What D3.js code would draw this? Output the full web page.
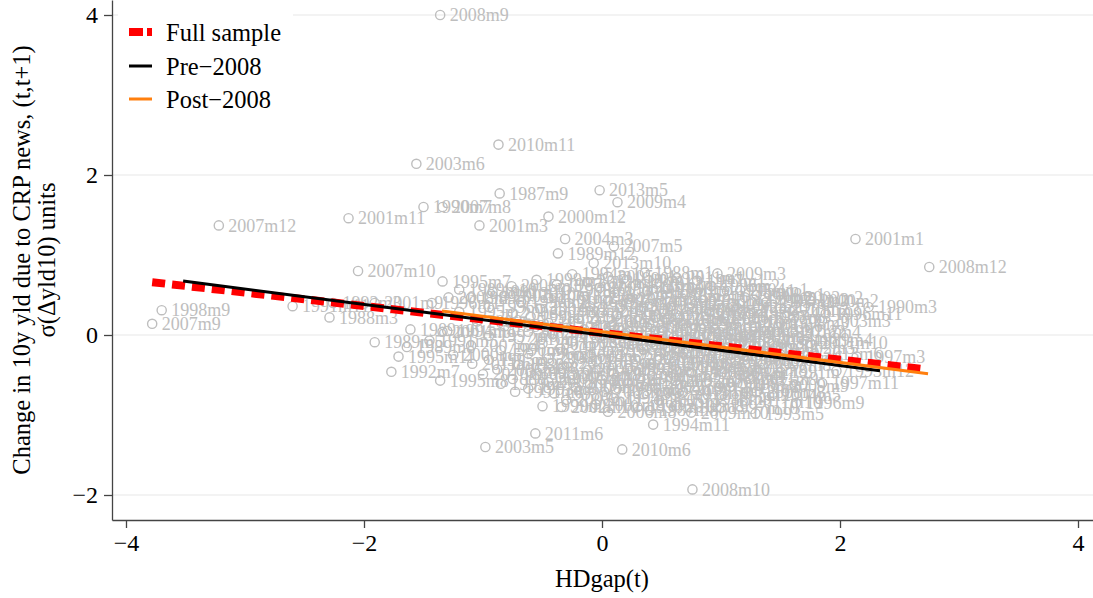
<!DOCTYPE html>
<html><head><meta charset="utf-8">
<script src="https://cdn.jsdelivr.net/npm/d3@7"></script>
<style>
body{margin:0;background:#fff}
svg{display:block}
text{font-family:"Liberation Serif","Times New Roman",serif}
</style>
</head><body>
<svg id="c" width="1093" height="598"></svg>
<script>
const xTicks = [-4, -2, 0, 2, 4];
const yTicks = [-2, 0, 2, 4];

// labelled outlying months: [HDgap(t), change in 10y yld, label]
const outlierPoints = [
  [-1.36,4.00,"2008m9"],[-0.87,2.38,"2010m11"],[-1.56,2.14,"2003m6"],[-0.86,1.77,"1987m9"],
  [-0.02,1.81,"2013m5"],[0.13,1.66,"2009m4"],[-1.50,1.60,"1990m7"],[-1.34,1.60,"2007m8"],
  [-2.13,1.46,"2001m11"],[-3.22,1.37,"2007m12"],[-0.45,1.48,"2000m12"],[-1.03,1.37,"2001m3"],
  [-0.31,1.20,"2004m3"],[0.10,1.11,"2007m5"],[-0.37,1.02,"1989m12"],[-0.07,0.90,"2013m10"],
  [2.13,1.20,"2001m1"],[2.75,0.85,"2008m12"],[0.97,0.77,"2009m3"],[-2.05,0.80,"2007m10"],
  [-1.34,0.67,"1995m7"],[-1.20,0.57,"1989m10"],[-1.29,0.47,"2008m4"],[-3.70,0.31,"1998m9"],
  [-3.78,0.14,"2007m9"],[2.24,0.35,"1990m3"],[1.88,0.27,"1996m11"],[1.50,0.44,"1991m2"],
  [1.47,0.04,"1997m2"],[1.75,-0.10,"2001m10"],[2.14,-0.27,"1997m3"],[1.97,-0.45,"1993m12"],
  [1.85,-0.60,"1997m11"],[1.63,-0.85,"1996m9"],[1.43,-0.75,"2004m5"],[1.29,-0.98,"1993m5"],
  [0.43,-1.12,"1994m11"],[-0.56,-1.23,"2011m6"],[-0.98,-1.40,"2003m5"],[0.17,-1.43,"2010m6"],
  [0.76,-1.93,"2008m10"],[-2.29,0.22,"1988m3"],[-2.60,0.36,"1991m11"],[-2.26,0.40,"1992m3"],
  [-1.91,0.40,"2001m9"],[-1.43,0.40,"1996m1"],[-1.61,0.07,"1989m6"],[-1.91,-0.09,"1989m5"],
  [-1.64,-0.15,"1989m8"],[-1.71,-0.27,"1995m11"],[-1.77,-0.46,"1992m7"],[-1.36,-0.57,"1995m8"],
  [-1.09,-0.36,"2011m8"],[-1.34,0.04,"2001m5"],[-0.73,-0.71,"1991m8"],[-0.34,-0.90,"2002m10"]
];

// the dense central cloud: [HDgap(t), change in 10y yld, label]
const cloudPoints = [
  [-0.25,0.76,"1994m1"],[0.05,0.73,"2005m1"],[0.36,0.78,"1988m1"],[0.63,0.71,"2011m1"],
  [-0.55,0.69,"1999m1"],[-0.12,0.66,"2002m1"],[0.18,0.70,"1990m1"],[0.46,0.64,"2012m1"],[0.80,0.68,"1997m1"],
  [-0.76,0.61,"2006m1"],[-0.38,0.63,"1987m1"],[-0.02,0.59,"2009m1"],[0.28,0.62,"1993m1"],[0.55,0.58,"2000m1"],[0.92,0.61,"1996m2"],[1.16,0.56,"2004m1"],
  [-0.92,0.54,"1991m1"],[-0.60,0.52,"2010m1"],[-0.30,0.56,"1998m1"],[0.10,0.53,"2003m1"],[0.38,0.55,"1992m1"],[0.70,0.51,"2013m1"],[1.05,0.55,"1995m1"],[1.30,0.50,"2008m1"],
  [-1.10,0.47,"1989m1"],[-0.82,0.49,"2007m1"],[-0.45,0.46,"2001m2"],[-0.15,0.48,"1994m2"],[0.22,0.45,"2005m2"],[0.50,0.49,"1988m2"],[0.85,0.44,"2011m2"],[1.20,0.47,"1999m2"],[1.62,0.46,"2002m2"],
  [-0.68,0.41,"1990m2"],[-0.28,0.40,"2012m2"],[0.05,0.43,"1997m4"],[0.40,0.39,"2006m2"],[0.66,0.42,"1987m2"],[0.98,0.38,"2009m2"],[1.38,0.41,"1993m2"],[1.75,0.43,"2000m2"],
  [-0.95,0.35,"1996m3"],[-0.52,0.33,"2004m2"],[-0.10,0.36,"1991m3"],[0.15,0.34,"2010m2"],[0.58,0.36,"1998m2"],[0.80,0.32,"2003m2"],[1.10,0.35,"1992m2"],[1.50,0.33,"2013m2"],
  [-1.20,0.29,"1995m2"],[-0.75,0.27,"2008m2"],[-0.35,0.30,"1989m2"],[0.00,0.28,"2007m2"],[0.32,0.31,"2001m4"],[0.62,0.26,"1994m3"],[0.90,0.29,"2005m3"],[1.25,0.27,"1988m4"],[1.60,0.30,"2011m3"],
  [-0.60,0.23,"1999m3"],[-0.20,0.21,"2002m3"],[0.12,0.24,"1990m4"],[0.45,0.22,"2012m3"],[0.72,0.25,"1997m5"],[1.02,0.21,"2006m3"],[1.35,0.23,"1987m3"],
  [-1.05,0.17,"2009m5"],[-0.45,0.15,"1993m3"],[-0.05,0.18,"2000m3"],[0.25,0.16,"1996m4"],[0.55,0.19,"2004m4"],[0.85,0.14,"1991m4"],[1.15,0.17,"2010m3"],[1.50,0.15,"1998m3"],[1.85,0.18,"2003m3"],
  [-0.82,0.11,"1992m4"],[-0.30,0.09,"2013m3"],[0.08,0.12,"1995m3"],[0.38,0.10,"2008m3"],[0.68,0.13,"1989m3"],[0.95,0.08,"2007m3"],[1.28,0.11,"2001m6"],
  [-1.30,0.05,"1994m4"],[-0.62,0.04,"2005m4"],[-0.15,0.07,"1988m5"],[0.20,0.03,"2011m4"],[0.50,0.06,"1999m4"],[0.78,0.02,"2002m4"],[1.08,0.05,"1990m5"],[1.60,0.04,"2012m4"],
  [-0.95,-0.01,"1997m6"],[-0.42,0.01,"2006m4"],[-0.02,-0.02,"1987m4"],[0.30,0.00,"2009m6"],[0.60,-0.03,"1993m4"],[0.88,0.01,"2000m4"],[1.20,-0.01,"1996m5"],[1.40,-0.04,"2004m6"],
  [-1.45,-0.07,"1991m5"],[-0.70,-0.05,"2010m4"],[-0.25,-0.08,"1998m4"],[0.12,-0.06,"2003m4"],[0.42,-0.09,"1992m5"],[0.72,-0.05,"2013m4"],[1.00,-0.07,"1995m4"],[1.32,-0.10,"2008m5"],[1.70,-0.06,"1989m4"],
  [-1.10,-0.13,"2007m4"],[-0.50,-0.11,"2001m7"],[-0.10,-0.14,"1994m5"],[0.25,-0.12,"2005m5"],[0.55,-0.15,"1988m6"],[0.85,-0.11,"2011m5"],[1.15,-0.13,"1999m5"],[1.55,-0.16,"2002m5"],
  [-0.85,-0.19,"1990m6"],[-0.35,-0.17,"2012m5"],[0.05,-0.20,"1997m7"],[0.35,-0.18,"2006m5"],[0.65,-0.21,"1987m5"],[0.95,-0.17,"2009m7"],[1.25,-0.19,"1993m6"],
  [-1.25,-0.25,"2000m5"],[-0.62,-0.23,"1996m6"],[-0.20,-0.26,"2004m7"],[0.15,-0.24,"1991m6"],[0.48,-0.27,"2010m5"],[0.78,-0.23,"1998m5"],[1.08,-0.25,"2003m7"],[1.45,-0.28,"1992m6"],[1.78,-0.24,"2013m6"],
  [-0.95,-0.31,"1995m5"],[-0.45,-0.29,"2008m6"],[-0.05,-0.32,"1989m7"],[0.28,-0.30,"2007m6"],[0.60,-0.33,"2001m8"],[0.90,-0.29,"1994m6"],[1.20,-0.31,"2005m6"],
  [-0.70,-0.37,"1988m7"],[-0.28,-0.35,"2011m7"],[0.08,-0.38,"1999m6"],[0.40,-0.36,"2002m6"],[0.72,-0.39,"1990m8"],[1.02,-0.35,"2012m6"],[1.35,-0.37,"1997m8"],
  [-0.88,-0.43,"2006m6"],[-0.50,-0.41,"1987m6"],[-0.12,-0.44,"2009m8"],[0.22,-0.42,"1993m7"],[0.55,-0.45,"2000m6"],[0.85,-0.41,"1996m7"],[1.15,-0.43,"2004m8"],[1.50,-0.46,"1991m7"],
  [-1.00,-0.49,"2010m7"],[-0.60,-0.47,"1998m6"],[-0.25,-0.50,"2003m8"],[0.10,-0.48,"1992m8"],[0.42,-0.51,"2013m7"],[0.75,-0.47,"1995m6"],[1.05,-0.49,"2008m7"],
  [-0.75,-0.55,"1989m9"],[-0.35,-0.53,"2007m7"],[0.00,-0.56,"2001m12"],[0.32,-0.54,"1994m7"],[0.62,-0.57,"2005m7"],[0.95,-0.53,"1988m8"],[1.25,-0.55,"2011m9"],
  [-0.85,-0.61,"1999m7"],[-0.45,-0.59,"2002m7"],[-0.10,-0.62,"1990m9"],[0.22,-0.60,"2012m7"],[0.55,-0.63,"1997m9"],[0.88,-0.59,"2006m7"],[1.18,-0.61,"1987m7"],[1.50,-0.64,"2009m9"],
  [-0.62,-0.67,"1993m8"],[-0.22,-0.65,"2000m7"],[0.12,-0.68,"1996m8"],[0.45,-0.66,"2004m9"],[0.78,-0.69,"1991m9"],[1.08,-0.65,"2010m8"],
  [-0.40,-0.73,"1998m7"],[0.02,-0.71,"2003m9"],[0.35,-0.74,"1992m9"],[0.68,-0.72,"2013m8"],[1.00,-0.75,"1995m9"],[1.30,-0.71,"2008m8"],
  [-0.30,-0.81,"2007m11"],[0.10,-0.79,"1994m8"],[0.48,-0.82,"2005m8"],[0.85,-0.80,"1988m9"],[1.20,-0.83,"2011m10"],
  [-0.50,-0.89,"1999m8"],[-0.05,-0.87,"2002m8"],[0.30,-0.90,"1990m10"],[0.62,-0.88,"2012m8"],[1.00,-0.91,"1997m10"],
  [0.05,-0.96,"2006m8"],[0.40,-0.94,"1987m8"],[0.75,-0.97,"2009m10"]
];

// fitted lines
const fitNames = ["Full sample", "Pre\u22122008", "Post\u22122008"];
const fitIntercepts = [0.027, 0.000, 0.041];
const fitSlopes = [-0.1675, -0.1916, -0.192];
const fitFrom = [-3.78, -3.52, -1.345];
const fitTo = [2.70, 2.336, 2.74];

const W = 1093, H = 598;
const plot = {left: 112, right: 1093, top: 0, bottom: 520};
const x = d3.scaleLinear().domain([-4.1176, 4.126]).range([plot.left, plot.right]);
const y = d3.scaleLinear().domain([-2.3125, 4.1875]).range([plot.bottom, plot.top]);
const serif = "'Liberation Serif','Times New Roman',serif";

const svg = d3.select("#c");
svg.append("rect").attr("width", W).attr("height", H).attr("fill", "#fff");

// gridlines
svg.append("g").selectAll("line").data(yTicks).join("line")
  .attr("x1", plot.left).attr("x2", plot.right)
  .attr("y1", d => y(d)).attr("y2", d => y(d))
  .attr("stroke", "#e8e8e8").attr("stroke-width", 1.2);

// points
const allPoints = outlierPoints.concat(cloudPoints);
const pg = svg.append("g");
pg.selectAll("circle").data(allPoints).join("circle")
  .attr("cx", d => x(d[0])).attr("cy", d => y(d[1])).attr("r", 4.6)
  .attr("fill", "none").attr("stroke", "#bebebe").attr("stroke-width", 1.4);
pg.selectAll("text").data(allPoints).join("text")
  .attr("x", d => x(d[0]) + 9.5).attr("y", d => y(d[1]))
  .attr("dy", "0.34em").attr("font-size", 18).attr("fill", "#bebebe")
  .text(d => d[2]);

// fit lines
const fitStyles = [
  {stroke: "#ff0000", width: 8, dash: "13,7"},
  {stroke: "#000000", width: 3, dash: null},
  {stroke: "#ff7f0e", width: 3, dash: null}
];
const line = d3.line().x(d => x(d[0])).y(d => y(d[1]));
fitNames.forEach((name, i) => {
  const pts = [fitFrom[i], fitTo[i]].map(v => [v, fitIntercepts[i] + fitSlopes[i] * v]);
  svg.append("path").attr("d", line(pts)).attr("fill", "none")
    .attr("stroke", fitStyles[i].stroke).attr("stroke-width", fitStyles[i].width)
    .attr("stroke-dasharray", fitStyles[i].dash);
});

// axes
const fmt = d3.format("d");
const ax = svg.append("g").attr("transform", `translate(0,${plot.bottom})`)
  .call(d3.axisBottom(x).tickValues(xTicks).tickFormat(fmt).tickSize(8).tickSizeOuter(0).tickPadding(6));
const ay = svg.append("g").attr("transform", `translate(${plot.left},0)`)
  .call(d3.axisLeft(y).tickValues(yTicks).tickFormat(fmt).tickSize(8).tickSizeOuter(0).tickPadding(6));
[ax, ay].forEach(g => {
  g.select(".domain").attr("stroke", "#444").attr("stroke-width", 1.3);
  g.selectAll(".tick line").attr("stroke", "#444").attr("stroke-width", 1.3);
  g.selectAll(".tick text").attr("font-family", serif)
    .attr("font-size", 24).attr("fill", "#000");
});

// axis titles
svg.append("text").attr("x", x(0)).attr("y", 587)
  .attr("text-anchor", "middle").attr("font-size", 24.5).text("HDgap(t)");
const yt = svg.append("g").attr("transform", `translate(0,${(plot.top + plot.bottom) / 2}) rotate(-90)`);
yt.append("text").attr("x", 0).attr("y", 30).attr("text-anchor", "middle").attr("font-size", 24.5)
  .text("Change in 10y yld due to CRP news, (t,t+1)");
yt.append("text").attr("x", 0).attr("y", 55).attr("text-anchor", "middle").attr("font-size", 24.5)
  .text("\u03c3(\u0394yld10) units");

// legend
const lg = svg.append("g");
lg.append("rect").attr("x", 118).attr("y", 0).attr("width", 175).attr("height", 116).attr("fill", "#fff");
const legendY = [32, 66, 99];
fitNames.forEach((name, i) => {
  lg.append("line").attr("x1", 129).attr("x2", 152).attr("y1", legendY[i]).attr("y2", legendY[i])
    .attr("stroke", fitStyles[i].stroke).attr("stroke-width", fitStyles[i].width)
    .attr("stroke-dasharray", fitStyles[i].dash ? "14,4" : null);
  lg.append("text").attr("x", 166).attr("y", legendY[i]).attr("dy", "0.35em")
    .attr("font-size", 24.5).text(name);
});
</script>
</body></html>
